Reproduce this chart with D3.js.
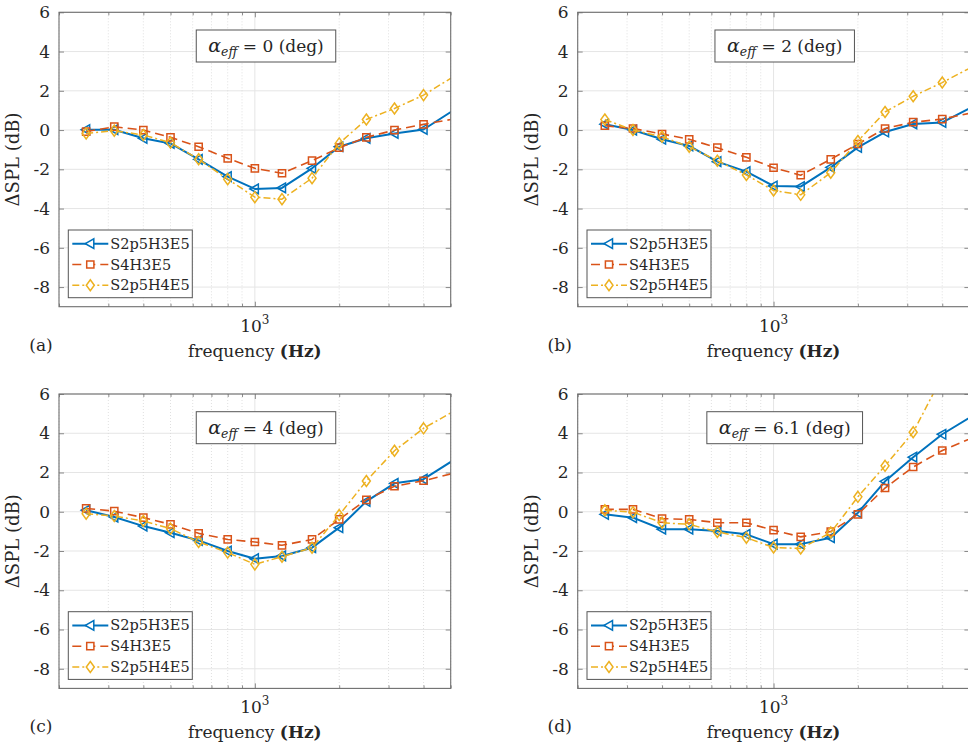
<!DOCTYPE html>
<html>
<head>
<meta charset="utf-8">
<script src="https://cdn.jsdelivr.net/npm/d3@7"></script>
<style>
  html, body { margin: 0; padding: 0; background: #fff; }
  svg { display: block; }
  svg text { font-family: "DejaVu Serif", serif !important; fill: #262626; }
</style>
</head>
<body>
<svg id="chart" width="968" height="747"></svg>
<script>
// ---------------- DATA ----------------
const frequencies = [250, 315, 400, 500, 630, 800, 1000, 1250, 1600, 2000, 2500, 3150, 4000, 6300];
const seriesNames = ["S2p5H3E5", "S4H3E5", "S2p5H4E5"];
const panelLabels = ["(a)", "(b)", "(c)", "(d)"];
const alphaValues = ["0", "2", "4", "6.1"];
const yTickValues = [-8, -6, -4, -2, 0, 2, 4, 6];
const xMajorTicks = [1000];
const xMajorTickLabels = ["3"]; // rendered as 10^3
const xMinorTicks = [200, 300, 400, 500, 600, 700, 800, 900, 2000, 3000, 4000, 5000];

// panel (a) alpha = 0
const a_S2p5H3E5 = [0.02, 0.02, -0.42, -0.68, -1.49, -2.37, -3.0, -2.95, -1.95, -0.85, -0.42, -0.17, 0.03, 1.83];
const a_S4H3E5   = [-0.08, 0.17, 0.0, -0.37, -0.85, -1.44, -1.95, -2.2, -1.56, -0.9, -0.37, 0.0, 0.29, 0.79];
const a_S2p5H4E5 = [-0.17, -0.03, -0.25, -0.64, -1.49, -2.5, -3.42, -3.52, -2.45, -0.68, 0.54, 1.1, 1.78, 3.52];
// panel (b) alpha = 2
const b_S2p5H3E5 = [0.3, 0.0, -0.47, -0.81, -1.61, -2.12, -2.85, -2.88, -1.9, -0.88, -0.1, 0.31, 0.39, 1.85];
const b_S4H3E5   = [0.22, 0.08, -0.2, -0.47, -0.9, -1.39, -1.92, -2.3, -1.49, -0.71, 0.08, 0.4, 0.56, 1.16];
const b_S2p5H4E5 = [0.54, 0.0, -0.34, -0.85, -1.56, -2.29, -3.08, -3.3, -2.17, -0.56, 0.92, 1.72, 2.42, 3.9];
// panel (c) alpha = 4
const c_S2p5H3E5 = [0.08, -0.27, -0.73, -1.07, -1.46, -2.0, -2.39, -2.25, -1.83, -0.81, 0.53, 1.45, 1.66, 3.45];
const c_S4H3E5   = [0.17, 0.03, -0.3, -0.64, -1.1, -1.41, -1.54, -1.71, -1.41, -0.39, 0.61, 1.3, 1.58, 2.28];
const c_S2p5H4E5 = [-0.1, -0.22, -0.47, -0.86, -1.54, -2.08, -2.68, -2.29, -1.83, -0.17, 1.57, 3.11, 4.25, 5.85];
// panel (d) alpha = 6.1
const d_S2p5H3E5 = [-0.13, -0.3, -0.89, -0.89, -0.98, -1.15, -1.65, -1.65, -1.32, -0.05, 1.55, 2.78, 3.95, 5.65];
const d_S4H3E5   = [0.12, 0.12, -0.35, -0.39, -0.56, -0.56, -0.94, -1.28, -1.01, -0.13, 1.21, 2.28, 3.12, 4.32];
const d_S2p5H4E5 = [0.08, -0.02, -0.56, -0.64, -1.03, -1.32, -1.82, -1.87, -1.06, 0.76, 2.34, 4.05, 6.9, 11.0];

const panelData = [
  [a_S2p5H3E5, a_S4H3E5, a_S2p5H4E5],
  [b_S2p5H3E5, b_S4H3E5, b_S2p5H4E5],
  [c_S2p5H3E5, c_S4H3E5, c_S2p5H4E5],
  [d_S2p5H3E5, d_S4H3E5, d_S2p5H4E5]
];

// ---------------- STYLE ----------------
const colors = ["#0072BD", "#D95319", "#EDB120"];
const dashes = [null, "9,5", "7,3,2,3"];
const widths = [2, 1.6, 1.5];
const markerTypes = ["triLeft", "square", "diamond"];

const W = 391.7, H = 294.4;
const origins = [[59, 12.3], [577.7, 12.3], [59, 394], [577.7, 394]];

const svg = d3.select("#chart");
const defs = svg.append("defs");

function markerPath(type) {
  if (type === "triLeft") return "M-5,0L3.5,-4.8L3.5,4.8Z";
  if (type === "square") return "M-3.6,-3.6H3.6V3.6H-3.6Z";
  return "M0,-5.5L4,0L0,5.5L-4,0Z";
}

panelData.forEach((series, pi) => {
  const [ox, oy] = origins[pi];
  const x = d3.scaleLog().domain([200, 5000]).range([0, W]);
  const y = d3.scaleLinear().domain([-9, 6]).range([H, 0]);
  const g = svg.append("g").attr("transform", `translate(${ox},${oy})`);

  const clipId = "clip" + pi;
  defs.append("clipPath").attr("id", clipId)
    .append("rect").attr("x", 0).attr("y", 0).attr("width", W).attr("height", H);

  // grid
  g.append("g").selectAll("line").data(yTickValues).join("line")
    .attr("x1", 0).attr("x2", W).attr("y1", d => y(d)).attr("y2", d => y(d))
    .attr("stroke", "#e5e5e5").attr("stroke-width", 1);
  g.append("g").selectAll("line").data(xMinorTicks).join("line")
    .attr("x1", d => x(d)).attr("x2", d => x(d)).attr("y1", 0).attr("y2", H)
    .attr("stroke", "#d8d8d8").attr("stroke-width", 0.8).attr("stroke-dasharray", "1,2");
  g.append("g").selectAll("line").data(xMajorTicks).join("line")
    .attr("x1", d => x(d)).attr("x2", d => x(d)).attr("y1", 0).attr("y2", H)
    .attr("stroke", "#e5e5e5").attr("stroke-width", 1);

  // axes with inside ticks
  const axisColor = "#6e6e6e";
  const yAxisL = g.append("g").call(d3.axisLeft(y).tickValues(yTickValues).tickSize(-5).tickPadding(9).tickFormat(d3.format("d")));
  const yAxisR = g.append("g").attr("transform", `translate(${W},0)`).call(d3.axisRight(y).tickValues(yTickValues).tickSize(-5).tickFormat(""));
  const xAxisB = g.append("g").attr("transform", `translate(0,${H})`).call(d3.axisBottom(x).tickValues(xMinorTicks).tickSize(-3).tickFormat(""));
  const xAxisB2 = g.append("g").attr("transform", `translate(0,${H})`).call(d3.axisBottom(x).tickValues(xMajorTicks).tickSize(-5).tickFormat(""));
  const xAxisT = g.append("g").call(d3.axisTop(x).tickValues(xMinorTicks).tickSize(-3).tickFormat(""));
  const xAxisT2 = g.append("g").call(d3.axisTop(x).tickValues(xMajorTicks).tickSize(-5).tickFormat(""));
  [yAxisL, yAxisR, xAxisB, xAxisB2, xAxisT, xAxisT2].forEach(ax => {
    ax.attr("font-family", null);
    ax.select(".domain").remove();
    ax.selectAll(".tick line").attr("stroke", axisColor).attr("stroke-width", 0.8);
  });
  yAxisL.selectAll(".tick text").attr("font-size", 17).attr("fill", "#262626")
    .text(d => d < 0 ? "-" + Math.abs(d) : d);

  // x major label 10^3
  xMajorTicks.forEach((t, i) => {
    const tx = g.append("text").attr("x", x(t)).attr("y", H + 25).attr("text-anchor", "middle").attr("font-size", 17);
    tx.append("tspan").text("10");
    tx.append("tspan").attr("font-size", 12).attr("dy", -8).text(xMajorTickLabels[i]);
  });

  // data lines
  const plot = g.append("g").attr("clip-path", `url(#${clipId})`);
  series.forEach((vals, si) => {
    const pts = frequencies.map((f, k) => [f, vals[k]]);
    const line = d3.line().x(d => x(d[0])).y(d => y(d[1]));
    plot.append("path").datum(pts).attr("d", line).attr("fill", "none")
      .attr("stroke", colors[si]).attr("stroke-width", widths[si])
      .attr("stroke-dasharray", dashes[si]).attr("stroke-linejoin", "round");
    plot.append("g").selectAll("path").data(pts).join("path")
      .attr("transform", d => `translate(${x(d[0])},${y(d[1])})`)
      .attr("d", markerPath(markerTypes[si])).attr("fill", "none")
      .attr("stroke", colors[si]).attr("stroke-width", 1.5);
  });

  // box
  g.append("rect").attr("x", 0).attr("y", 0).attr("width", W).attr("height", H)
    .attr("fill", "none").attr("stroke", axisColor).attr("stroke-width", 1.1);

  // axis labels
  const xl = g.append("text").attr("x", W / 2).attr("y", H + 50).attr("text-anchor", "middle").attr("font-size", 17);
  xl.append("tspan").text("frequency ");
  xl.append("tspan").attr("font-weight", "bold").text("(Hz)");
  g.append("text").attr("transform", `translate(-40,${H / 2}) rotate(-90)`)
    .attr("text-anchor", "middle").attr("font-size", 18).text("ΔSPL (dB)");
  g.append("text").attr("x", -18).attr("y", H + 44).attr("text-anchor", "middle").attr("font-size", 17).text(panelLabels[pi]);

  // annotation box
  const ann = g.append("g").attr("transform", `translate(207,${17.7 + 16})`);
  const annText = ann.append("text").attr("text-anchor", "middle").attr("dy", "0.35em").attr("font-size", 17);
  annText.append("tspan").attr("font-style", "italic").attr("font-size", 19).text("α");
  annText.append("tspan").attr("font-style", "italic").attr("font-size", 12.5).attr("dy", 4).text("eff");
  annText.append("tspan").attr("dy", -4).text(" = " + alphaValues[pi] + " (deg)");
  const bb = annText.node().getBBox();
  ann.insert("rect", "text").attr("x", bb.x - 12).attr("y", -16).attr("width", bb.width + 24).attr("height", 32)
    .attr("fill", "#fff").attr("stroke", "#555").attr("stroke-width", 1);

  // legend
  const lg = g.append("g").attr("transform", `translate(9.3,${H - 9 - 67.7})`);
  lg.append("rect").attr("width", 124).attr("height", 67.7).attr("fill", "#fff")
    .attr("stroke", "#555").attr("stroke-width", 1);
  seriesNames.forEach((name, si) => {
    const ry = 13.7 + si * 20.8;
    lg.append("line").attr("x1", 4).attr("x2", 40).attr("y1", ry).attr("y2", ry)
      .attr("stroke", colors[si]).attr("stroke-width", widths[si]).attr("stroke-dasharray", dashes[si]);
    lg.append("path").attr("transform", `translate(22,${ry})`).attr("d", markerPath(markerTypes[si]))
      .attr("fill", "#fff").attr("stroke", colors[si]).attr("stroke-width", 1.5);
    lg.append("text").attr("x", 42).attr("y", ry).attr("dy", "0.35em").attr("font-size", 14.5).text(name);
  });
});
</script>
</body>
</html>
